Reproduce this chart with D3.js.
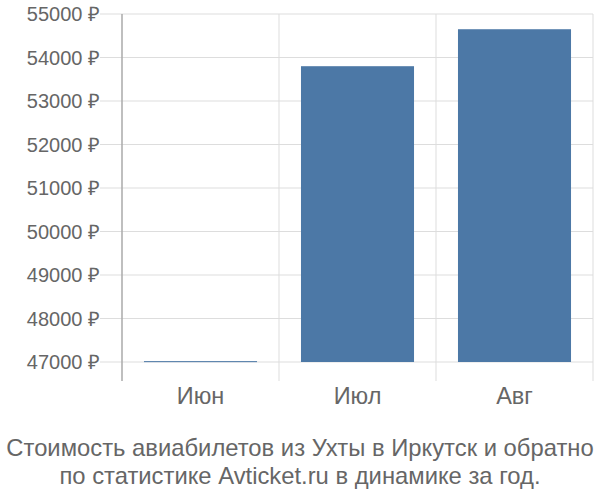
<!DOCTYPE html>
<html>
<head>
<meta charset="utf-8">
<script src="https://cdn.jsdelivr.net/npm/d3@7"></script>
<style>
  body { margin: 0; background: #fff; }
  text { font-family: "Liberation Sans", Arial, sans-serif; fill: #666; }
</style>
</head>
<body>
<svg id="chart" width="600" height="500"></svg>
<script>
// данные графика
const months = ["Июн", "Июл", "Авг"];
const prices = [47020, 53800, 54650];
const yTicks = [47000, 48000, 49000, 50000, 51000, 52000, 53000, 54000, 55000];
const titleLines = [
    "Стоимость авиабилетов из Ухты в Иркутск и обратно",
    "по статистике Avticket.ru в динамике за год."
];

const margin = { top: 14, right: 7, bottom: 138, left: 122 },
      width = 600 - margin.left - margin.right,
      height = 500 - margin.top - margin.bottom;

const svg = d3.select("#chart")
    .append("g")
    .attr("transform", `translate(${margin.left},${margin.top})`);

const x = d3.scaleBand()
    .domain(months)
    .range([0, width])
    .paddingInner(0.28)
    .paddingOuter(0.14);

const y = d3.scaleLinear()
    .domain([47000, 55000])
    .range([height, 0]);

// горизонтальная сетка
svg.append("g")
    .selectAll("line")
    .data(yTicks)
    .enter()
    .append("line")
    .attr("x1", -22)
    .attr("x2", width)
    .attr("y1", d => y(d))
    .attr("y2", d => y(d))
    .attr("stroke", "#ddd")
    .attr("stroke-width", 1);

// вертикальные линии между категориями
const bounds = d3.range(months.length + 1).map(i => i * width / months.length);
svg.append("g")
    .selectAll("line")
    .data(bounds)
    .enter()
    .append("line")
    .attr("x1", d => d)
    .attr("x2", d => d)
    .attr("y1", 0)
    .attr("y2", height + 19)
    .attr("stroke", (d, i) => i === 0 ? "#aaa" : "#ddd")
    .attr("stroke-width", (d, i) => i === 0 ? 1.5 : 1);

// столбцы
svg.selectAll("rect")
    .data(prices)
    .enter()
    .append("rect")
    .attr("x", (d, i) => x(months[i]))
    .attr("y", d => y(d))
    .attr("width", x.bandwidth())
    .attr("height", d => Math.max(1, height - y(d)))
    .style("fill", "#4c78a6");

// подписи оси Y
svg.append("g")
    .selectAll("text")
    .data(yTicks)
    .enter()
    .append("text")
    .attr("x", -22)
    .attr("y", d => y(d))
    .attr("dy", "0.35em")
    .attr("text-anchor", "end")
    .style("font-size", "20px")
    .text(d => d + " ₽");

// подписи оси X
svg.append("g")
    .selectAll("text")
    .data(months)
    .enter()
    .append("text")
    .attr("x", d => x(d) + x.bandwidth() / 2)
    .attr("y", height + 42)
    .attr("text-anchor", "middle")
    .style("font-size", "23.5px")
    .text(d => d);

// заголовок
d3.select("#chart").append("g")
    .selectAll("text")
    .data(titleLines)
    .enter()
    .append("text")
    .attr("x", 300)
    .attr("y", (d, i) => 456 + i * 28)
    .attr("text-anchor", "middle")
    .style("font-size", "23.8px")
    .text(d => d);
</script>
</body>
</html>
